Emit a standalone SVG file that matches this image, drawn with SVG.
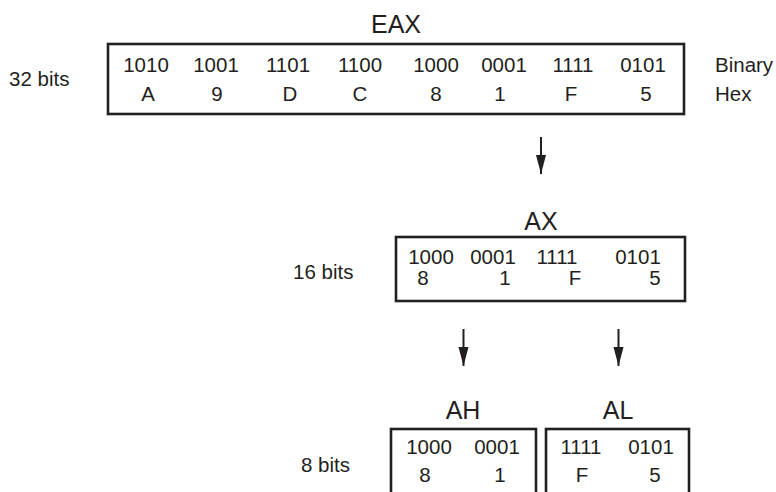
<svg xmlns="http://www.w3.org/2000/svg" width="776" height="492" viewBox="0 0 776 492">
<style>
text{font-family:"Liberation Sans",Arial,sans-serif;fill:#231f20}
.t{font-size:25px;text-anchor:middle}
.d{font-size:20.5px;text-anchor:middle}
.s{font-size:20.5px}
.box{fill:none;stroke:#231f20;stroke-width:2.6}
.ar{stroke:#231f20;stroke-width:2;fill:none}
</style>
<defs>
<marker id="arr" markerUnits="userSpaceOnUse" markerWidth="20" markerHeight="12" viewBox="0 0 20 12" refX="19" refY="6" orient="auto">
<path d="M0,1 L19,6 L0,11 Z" fill="#231f20"/>
</marker>
</defs>

<g id="eax">
<text class="t" x="396" y="33">EAX</text>
<rect class="box" x="108" y="44" width="576" height="70"/>
<text class="d" x="146" y="72">1010</text>
<text class="d" x="216" y="72">1001</text>
<text class="d" x="288" y="72">1101</text>
<text class="d" x="360" y="72">1100</text>
<text class="d" x="436" y="72">1000</text>
<text class="d" x="504" y="72">0001</text>
<text class="d" x="573" y="72">1111</text>
<text class="d" x="643" y="72">0101</text>
<text class="d" x="148" y="101">A</text>
<text class="d" x="217" y="101">9</text>
<text class="d" x="290" y="101">D</text>
<text class="d" x="360" y="101">C</text>
<text class="d" x="436" y="101">8</text>
<text class="d" x="500" y="101">1</text>
<text class="d" x="571" y="101">F</text>
<text class="d" x="646" y="101">5</text>
</g>
<text class="s" x="9" y="86">32 bits</text>
<text class="s" x="715" y="72">Binary</text>
<text class="s" x="715" y="101">Hex</text>

<g id="ax">
<text class="t" x="541" y="230">AX</text>
<rect class="box" x="396" y="237" width="289" height="64"/>
<text class="d" x="431" y="264">1000</text>
<text class="d" x="493" y="264">0001</text>
<text class="d" x="557" y="264">1111</text>
<text class="d" x="638" y="264">0101</text>
<text class="d" x="423" y="285">8</text>
<text class="d" x="505" y="285">1</text>
<text class="d" x="575" y="285">F</text>
<text class="d" x="655" y="285">5</text>
</g>
<text class="s" x="293" y="279">16 bits</text>

<g id="ah-node">
<text class="t" x="463" y="419">AH</text>
<rect class="box" x="391" y="429" width="145" height="90"/>
<text class="d" x="429" y="454">1000</text>
<text class="d" x="497" y="454">0001</text>
<text class="d" x="425" y="482">8</text>
<text class="d" x="500" y="482">1</text>
</g>
<g id="al-node">
<text class="t" x="618" y="419">AL</text>
<rect class="box" x="546" y="429" width="143" height="90"/>
<text class="d" x="581" y="454">1111</text>
<text class="d" x="651" y="454">0101</text>
<text class="d" x="582" y="482">F</text>
<text class="d" x="655" y="482">5</text>
</g>
<text class="s" x="301" y="472">8 bits</text>

<g id="connectors">
<line class="ar" x1="541" y1="137" x2="541" y2="174" marker-end="url(#arr)"/>
<line class="ar" x1="463.5" y1="329" x2="463.5" y2="366" marker-end="url(#arr)"/>
<line class="ar" x1="618.5" y1="329" x2="618.5" y2="366" marker-end="url(#arr)"/>
</g>
</svg>
